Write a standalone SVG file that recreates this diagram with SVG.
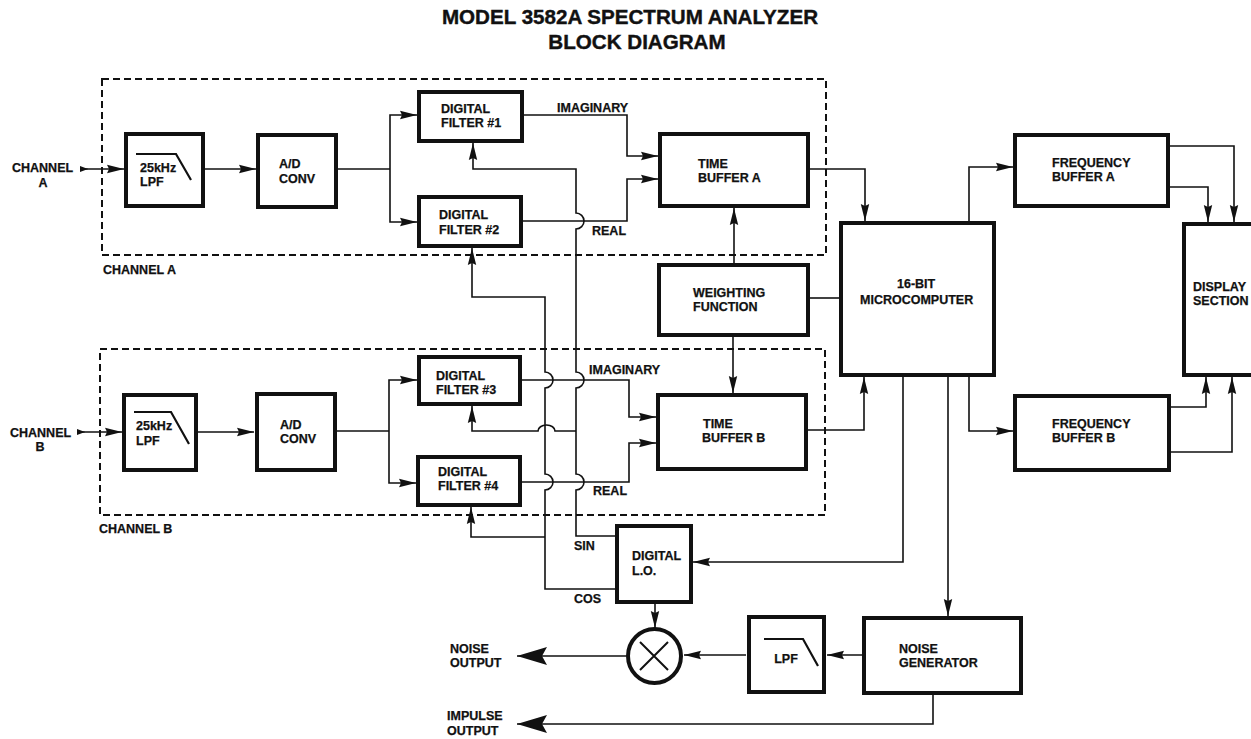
<svg xmlns="http://www.w3.org/2000/svg" width="1251" height="739" viewBox="0 0 1251 739">
<style>
text{font-family:"Liberation Sans",Arial,sans-serif;font-weight:700;font-size:12.5px;fill:#111;stroke:#111;stroke-width:.25}
.title{font-size:20.6px;stroke-width:.4}
.box{fill:#fff;stroke:#111;stroke-width:4}
.dash{fill:none;stroke:#111;stroke-width:2;stroke-dasharray:7 4}
.wire{fill:none;stroke:#111;stroke-width:1.6}
.a{marker-end:url(#arrow)}
.big{marker-end:url(#bigarrow)}
.icon{fill:none;stroke:#111;stroke-width:2.2}
</style>
<defs>
<marker id="arrow" markerUnits="userSpaceOnUse" markerWidth="20" markerHeight="12" refX="17" refY="5" orient="auto"><path d="M0 .8L17 5L0 9.2L2 5Z" fill="#111"/></marker>
<marker id="bigarrow" markerUnits="userSpaceOnUse" markerWidth="32" markerHeight="24" refX="30" refY="11" orient="auto"><path d="M0 2L30 11L0 20L5 11Z" fill="#111"/></marker>
<marker id="small" markerUnits="userSpaceOnUse" markerWidth="10" markerHeight="10" refX="8" refY="4" orient="auto"><path d="M0 1L8 4L0 7Z" fill="#111"/></marker>
</defs>
<g id="title">
<text class="title" x="630" y="24" text-anchor="middle">MODEL 3582A SPECTRUM ANALYZER</text>
<text class="title" x="637" y="49" text-anchor="middle">BLOCK DIAGRAM</text>
</g>
<g id="channel-a-frame"><rect class="dash" x="102" y="79" width="724" height="176"/><text x="103" y="274">CHANNEL A</text></g>
<g id="channel-b-frame"><rect class="dash" x="100" y="349" width="725" height="166"/><text x="99" y="533">CHANNEL B</text></g>
<g id="connectors">
<path class="wire" d="M81 169H88" style="marker-end:url(#small)"/>
<path class="wire a" d="M88 169H124"/>
<path class="wire a" d="M205 169H256"/>
<path class="wire" d="M338 169H390"/>
<path class="wire a" d="M390 169V115H417"/>
<path class="wire a" d="M390 169V222H417"/>
<path class="wire" d="M78 432H85" style="marker-end:url(#small)"/>
<path class="wire a" d="M85 432H122"/>
<path class="wire a" d="M198 432H254"/>
<path class="wire" d="M337 431H389"/>
<path class="wire a" d="M389 431V380H417"/>
<path class="wire a" d="M389 431V483H416"/>
<path class="wire a" d="M524 115H627V156H658"/>
<path class="wire a" d="M523 221H627V179H658"/>
<path class="wire a" d="M522 380H629V417H656"/>
<path class="wire a" d="M522 482H629V443H656"/>
<path class="wire a" d="M615 536H576V490A8 8 0 0 0 576 474V388A8 8 0 0 0 576 372V229A8 8 0 0 0 576 213V169H473V143"/>
<path class="wire a" d="M576 431H555A8.5 6 0 0 0 538 431H472V406"/>
<path class="wire a" d="M615 589H545V490A8 8 0 0 0 545 474V388A8 8 0 0 0 545 372V297H472V248"/>
<path class="wire a" d="M545 537H471V507"/>
<path class="wire a" d="M810 169H865V221"/>
<path class="wire a" d="M808 430H864V377"/>
<path class="wire a" d="M734 263V208"/>
<path class="wire a" d="M733 337V393"/>
<path class="wire" d="M810 298H839"/>
<path class="wire a" d="M969 221V167H1013"/>
<path class="wire a" d="M969 377V431H1013"/>
<path class="wire a" d="M1170 146H1234V222"/>
<path class="wire a" d="M1170 187H1208V222"/>
<path class="wire a" d="M1171 407H1206V377"/>
<path class="wire a" d="M1171 452H1232V377"/>
<path class="wire a" d="M903 377V562H693"/>
<path class="wire a" d="M948 377V616"/>
<path class="wire a" d="M655 604V628"/>
<path class="wire a" d="M863 655H827"/>
<path class="wire a" d="M746 655H684"/>
<path class="wire big" d="M626 656H517"/>
<path class="wire big" d="M933 694V724H517"/>
</g>
<g id="lbl-channel-a-in"><text x="12" y="172">CHANNEL</text><text x="43" y="187" text-anchor="middle">A</text></g>
<g id="lbl-channel-b-in"><text x="10" y="437">CHANNEL</text><text x="40" y="451" text-anchor="middle">B</text></g>
<g id="lpf-a"><rect class="box" x="126" y="134" width="77" height="72"/><path class="icon" d="M136 154H176L191 180"/><text x="140" y="172">25kHz</text><text x="140" y="186">LPF</text></g>
<g id="adc-a"><rect class="box" x="258" y="135" width="78" height="72"/><text x="279" y="168">A/D</text><text x="279" y="183">CONV</text></g>
<g id="filter-1"><rect class="box" x="419" y="92" width="103" height="49"/><text x="441" y="113">DIGITAL</text><text x="441" y="127">FILTER #1</text></g>
<g id="filter-2"><rect class="box" x="419" y="197" width="102" height="49"/><text x="439" y="219">DIGITAL</text><text x="439" y="234">FILTER #2</text></g>
<g id="time-buffer-a"><rect class="box" x="660" y="134" width="148" height="72"/><text x="698" y="168">TIME</text><text x="698" y="182">BUFFER A</text></g>
<g id="weighting"><rect class="box" x="659" y="265" width="149" height="70"/><text x="693" y="297">WEIGHTING</text><text x="693" y="311">FUNCTION</text></g>
<g id="lpf-b"><rect class="box" x="124" y="395" width="72" height="75"/><path class="icon" d="M134 412H171L189 444"/><text x="136" y="430">25kHz</text><text x="136" y="445">LPF</text></g>
<g id="adc-b"><rect class="box" x="257" y="394" width="78" height="76"/><text x="280" y="429">A/D</text><text x="280" y="443">CONV</text></g>
<g id="filter-3"><rect class="box" x="419" y="357" width="101" height="47"/><text x="436" y="380">DIGITAL</text><text x="436" y="394">FILTER #3</text></g>
<g id="filter-4"><rect class="box" x="418" y="457" width="102" height="48"/><text x="438" y="476">DIGITAL</text><text x="438" y="490">FILTER #4</text></g>
<g id="time-buffer-b"><rect class="box" x="658" y="395" width="148" height="74"/><text x="703" y="428">TIME</text><text x="702" y="442">BUFFER B</text></g>
<g id="microcomputer"><rect class="box" x="841" y="223" width="153" height="152"/><text x="897" y="288">16-BIT</text><text x="860" y="304">MICROCOMPUTER</text></g>
<g id="frequency-buffer-a"><rect class="box" x="1015" y="135" width="153" height="71"/><text x="1052" y="167">FREQUENCY</text><text x="1052" y="181">BUFFER A</text></g>
<g id="frequency-buffer-b"><rect class="box" x="1015" y="396" width="154" height="74"/><text x="1052" y="428">FREQUENCY</text><text x="1052" y="442">BUFFER B</text></g>
<g id="display"><rect class="box" x="1184" y="224" width="80" height="151"/><text x="1193" y="291">DISPLAY</text><text x="1193" y="305">SECTION</text></g>
<g id="digital-lo"><rect class="box" x="617" y="526" width="74" height="76"/><text x="632" y="560">DIGITAL</text><text x="632" y="575">L.O.</text></g>
<g id="mixer"><ellipse cx="654.5" cy="656" rx="26.5" ry="27" fill="#fff" stroke="#111" stroke-width="4"/><path class="wire" style="stroke-width:2" d="M640 642L668 670M668 642L640 670"/></g>
<g id="lpf-c"><rect class="box" x="749" y="617" width="75" height="75"/><path class="icon" d="M764 639H803L818 666"/><text x="786" y="663" text-anchor="middle">LPF</text></g>
<g id="noise-generator"><rect class="box" x="864" y="618" width="157" height="75"/><text x="899" y="653">NOISE</text><text x="899" y="667">GENERATOR</text></g>
<g id="lbl-noise"><text x="450" y="653">NOISE</text><text x="450" y="667">OUTPUT</text></g>
<g id="lbl-impulse"><text x="447" y="720">IMPULSE</text><text x="447" y="735">OUTPUT</text></g>
<g id="signal-labels">
<text x="557" y="112">IMAGINARY</text>
<text x="592" y="235">REAL</text>
<text x="589" y="374">IMAGINARY</text>
<text x="593" y="495">REAL</text>
<text x="574" y="550">SIN</text>
<text x="574" y="603">COS</text>
</g>
</svg>
